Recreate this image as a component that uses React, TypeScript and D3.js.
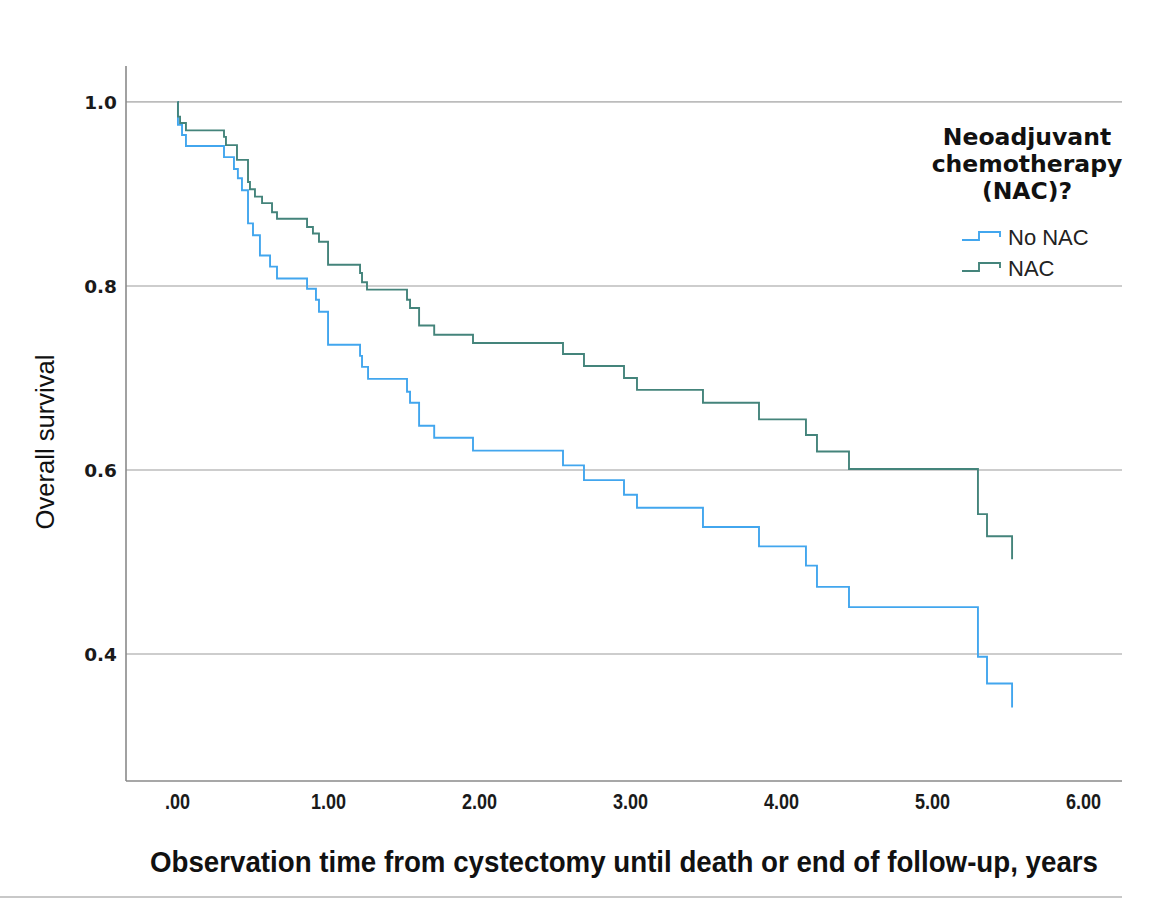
import React from 'react';
import * as d3 from 'd3';

// Kaplan-Meier steps (years, survival after the drop)
const noNacTime = [0, 0.003, 0.03, 0.056, 0.308, 0.374, 0.4, 0.427, 0.467, 0.5, 0.546, 0.613, 0.659, 0.858, 0.917, 0.937, 0.997, 1.209, 1.222, 1.262, 1.52, 1.54, 1.6, 1.7, 1.957, 2.553, 2.692, 2.957, 3.043, 3.48, 3.851, 4.162, 4.235, 4.447, 5.301, 5.361, 5.527];
const noNacSurv = [1.0, 0.975, 0.964, 0.952, 0.94, 0.927, 0.917, 0.904, 0.868, 0.855, 0.833, 0.821, 0.808, 0.797, 0.785, 0.772, 0.736, 0.724, 0.712, 0.699, 0.685, 0.673, 0.648, 0.635, 0.621, 0.605, 0.589, 0.573, 0.559, 0.538, 0.517, 0.496, 0.473, 0.451, 0.397, 0.368, 0.342];

const nacTime = [0, 0.003, 0.017, 0.056, 0.308, 0.321, 0.394, 0.467, 0.48, 0.513, 0.56, 0.626, 0.659, 0.858, 0.897, 0.937, 0.997, 1.209, 1.222, 1.255, 1.52, 1.54, 1.6, 1.7, 1.957, 2.553, 2.692, 2.957, 3.043, 3.48, 3.851, 4.162, 4.235, 4.447, 5.301, 5.361, 5.527];
const nacSurv = [1.0, 0.984, 0.977, 0.969, 0.962, 0.953, 0.937, 0.913, 0.905, 0.897, 0.89, 0.88, 0.873, 0.864, 0.857, 0.848, 0.823, 0.814, 0.804, 0.796, 0.785, 0.776, 0.757, 0.747, 0.738, 0.726, 0.713, 0.7, 0.687, 0.673, 0.655, 0.638, 0.62, 0.601, 0.552, 0.528, 0.503];

const groupNames = ['No NAC', 'NAC'];
const groupColors = ['#42a6ee', '#44847b'];

const xTicks = [0, 1, 2, 3, 4, 5, 6];
const xTickLabels = ['.00', '1.00', '2.00', '3.00', '4.00', '5.00', '6.00'];
const yTicks = [0.4, 0.6, 0.8, 1.0];
const yTickLabels = ['0.4', '0.6', '0.8', '1.0'];

const legendTitle = ['Neoadjuvant', 'chemotherapy', '(NAC)?'];

// rough width of a numeric label in a narrow bold face (em units)
const narrowWidth = (s: string, size: number) =>
    s.split('').reduce((w, c) => w + (c === '.' ? 0.278 : 0.556), 0) * size * 0.82;

export default function App() {
    const width = 1157;
    const height = 900;

    const x = d3.scaleLinear().domain([-0.341, 6.255]).range([126, 1122]);
    const y = d3.scaleLinear().domain([0.262, 1.039]).range([781, 66]);

    const line = d3
        .line<[number, number]>()
        .x((d) => x(d[0]))
        .y((d) => y(d[1]))
        .curve(d3.curveStepAfter);

    const series = [
        noNacTime.map((t, i) => [t, noNacSurv[i]] as [number, number]),
        nacTime.map((t, i) => [t, nacSurv[i]] as [number, number]),
    ];

    const [x0, x1] = x.range();
    const [yb, yt] = y.range();

    // little step glyph used in the legend
    const stepGlyph = (lx: number, ly: number) =>
        `M${lx},${ly} H${lx + 17} V${ly - 8} H${lx + 38} V${ly - 3}`;

    return (
        <svg
            width={width}
            height={height}
            style={{ position: 'absolute', left: 0, top: 0, background: '#fff' }}
        >
            {/* grid lines */}
            {yTicks.map((v) => (
                <line key={v} x1={x0} x2={x1} y1={y(v)} y2={y(v)} stroke="#bcbcbc" strokeWidth={1.6} />
            ))}

            {/* axes */}
            <line x1={x0} x2={x0} y1={yt} y2={yb} stroke="#8a8a8a" strokeWidth={1.6} />
            <line x1={x0} x2={x1} y1={yb} y2={yb} stroke="#8a8a8a" strokeWidth={1.6} />

            {/* survival curves */}
            {series.map((s, i) => (
                <path key={i} d={line(s) || ''} fill="none" stroke={groupColors[i]} strokeWidth={1.9} />
            ))}

            {/* y tick labels */}
            {yTicks.map((v, i) => (
                <text
                    key={v}
                    x={117}
                    y={y(v)}
                    dy="0.36em"
                    textAnchor="end"
                    fontFamily="DejaVu Sans"
                    fontWeight="bold"
                    fontSize={18.5}
                    fill="#1a1a1a"
                >
                    {yTickLabels[i]}
                </text>
            ))}

            {/* x tick labels */}
            {xTicks.map((t, i) => (
                <text
                    key={t}
                    x={x(t)}
                    y={809}
                    textAnchor="middle"
                    fontFamily="'Liberation Sans', Arial, sans-serif"
                    fontWeight="bold"
                    fontSize={22}
                    textLength={narrowWidth(xTickLabels[i], 22)}
                    lengthAdjust="spacingAndGlyphs"
                    fill="#1a1a1a"
                >
                    {xTickLabels[i]}
                </text>
            ))}

            {/* axis titles */}
            <text
                x={624}
                y={872}
                textAnchor="middle"
                fontFamily="'Liberation Sans', Arial, sans-serif"
                fontWeight="bold"
                fontSize={29}
                textLength={948}
                lengthAdjust="spacingAndGlyphs"
                fill="#111"
            >
                Observation time from cystectomy until death or end of follow-up, years
            </text>
            <text
                transform="translate(54,442) rotate(-90)"
                textAnchor="middle"
                fontFamily="'Liberation Sans', Arial, sans-serif"
                fontSize={25}
                textLength={175}
                lengthAdjust="spacingAndGlyphs"
                fill="#111"
            >
                Overall survival
            </text>

            {/* legend */}
            {legendTitle.map((t, i) => (
                <text
                    key={t}
                    x={1027}
                    y={145 + i * 27}
                    textAnchor="middle"
                    fontFamily="DejaVu Sans"
                    fontWeight="bold"
                    fontSize={23.5}
                    fill="#111"
                >
                    {t}
                </text>
            ))}
            {groupNames.map((g, i) => (
                <g key={g}>
                    <path d={stepGlyph(962, 240 + i * 31)} fill="none" stroke={groupColors[i]} strokeWidth={1.9} />
                    <text
                        x={1008}
                        y={245 + i * 31}
                        fontFamily="'Liberation Sans', Arial, sans-serif"
                        fontSize={22}
                        fill="#222"
                    >
                        {g}
                    </text>
                </g>
            ))}

            {/* bottom frame line */}
            <line x1={0} x2={1122} y1={897} y2={897} stroke="#c8c8c8" strokeWidth={2} />
        </svg>
    );
}
